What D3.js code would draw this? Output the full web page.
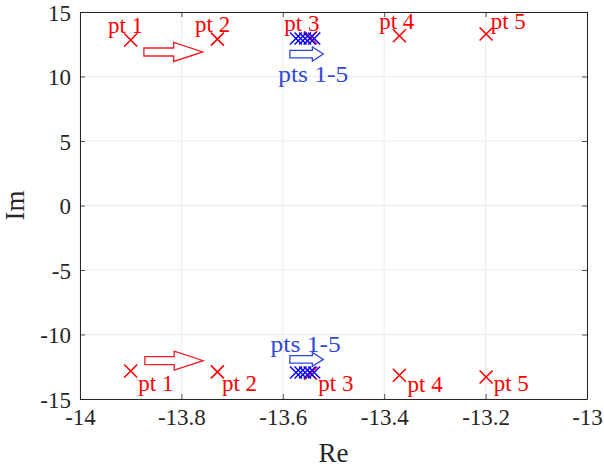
<!DOCTYPE html>
<html><head><meta charset="utf-8">
<script src="https://cdn.jsdelivr.net/npm/d3@7"></script>
<style>body{margin:0;background:#fff}svg{display:block}text{font-family:"Liberation Serif","Times New Roman",serif}</style>
</head><body><svg id="c" width="604" height="467"></svg>
<script>
// ---- data ----
const xTicks = [-14, -13.8, -13.6, -13.4, -13.2, -13];
const yTicks = [-15, -10, -5, 0, 5, 10, 15];
const redRe = [-13.90, -13.729, -13.545, -13.37, -13.199];
const redImTop = [12.83, 12.90, 13.0, 13.16, 13.29];
const redImBot = [-12.83, -12.90, -13.0, -13.16, -13.29];
const blueRe = [-13.574, -13.565, -13.556, -13.547, -13.538];
const blueIm = [12.95, 12.95, 12.95, 12.95, 12.95];
const ptLabels = ["pt 1", "pt 2", "pt 3", "pt 4", "pt 5"];
const topLabelRe = [-13.945, -13.773, -13.597, -13.41, -13.19];
const topLabelIm = [13.37, 13.42, 13.55, 13.66, 13.66];
const botLabelRe = [-13.885, -13.72, -13.53, -13.354, -13.184];
const botLabelIm = [-14.38, -14.38, -14.38, -14.42, -14.38];
const blueLabel = "pts 1-5";
const blueLabelRe = [-13.609, -13.624];
const blueLabelIm = [9.57, -11.33];
// arrows: [tailRe, tipRe, im]
const redArrows = [[-13.874, -13.758, 11.9], [-13.872, -13.757, -12.03]];
const blueArrows = [[-13.586, -13.52, 11.74], [-13.586, -13.52, -11.93]];

// ---- layout ----
const m = {l: 80, r: 17, t: 12, b: 68};
const W = 604, H = 467;
const SERIF = '"Liberation Serif","Times New Roman",serif';
const svg = d3.select("#c");
const x = d3.scaleLinear().domain([-14, -13]).range([m.l, W - m.r]);
const y = d3.scaleLinear().domain([-15, 15]).range([H - m.b, m.t]);
const RED = "#ff0000", BLUE = "#0000ff", BLUET = "#3048d8";
const fmt = d => String(d);

// grid
const g = svg.append("g");
g.selectAll(".gx").data(xTicks).join("line").attr("x1", d => x(d)).attr("x2", d => x(d))
  .attr("y1", y(-15)).attr("y2", y(15)).attr("stroke", "#ebebeb").attr("stroke-width", 1);
g.selectAll(".gy").data(yTicks).join("line").attr("y1", d => y(d)).attr("y2", d => y(d))
  .attr("x1", x(-14)).attr("x2", x(-13)).attr("stroke", "#ebebeb").attr("stroke-width", 1);

// axes
const axCol = "#262626";
const xa = svg.append("g").attr("transform", `translate(0,${y(-15)})`)
  .call(d3.axisBottom(x).tickValues(xTicks).tickSizeInner(-5).tickSizeOuter(0).tickPadding(9).tickFormat(fmt));
const ya = svg.append("g").attr("transform", `translate(${x(-14)},0)`)
  .call(d3.axisLeft(y).tickValues(yTicks).tickSizeInner(-5).tickSizeOuter(0).tickPadding(9).tickFormat(fmt));
const xt = svg.append("g").attr("transform", `translate(0,${y(15)})`)
  .call(d3.axisTop(x).tickValues(xTicks).tickSizeInner(-5).tickSizeOuter(0).tickFormat(""));
const yr = svg.append("g").attr("transform", `translate(${x(-13)},0)`)
  .call(d3.axisRight(y).tickValues(yTicks).tickSizeInner(-5).tickSizeOuter(0).tickFormat(""));
[xa, ya, xt, yr].forEach(a => {
  a.attr("font-family", SERIF).attr("font-size", 23);
  a.select(".domain").attr("stroke", axCol).attr("stroke-width", 1);
  a.selectAll(".tick line").attr("stroke", axCol).attr("stroke-width", 0.8);
  a.selectAll("text").attr("fill", axCol).style("font-size", "23px").style("font-family", SERIF);
});
xa.selectAll("text").attr("dy", "0.72em");
ya.selectAll("text").attr("dy", "0.35em");

svg.append("text").attr("x", x(-13.5)).attr("y", 462).attr("text-anchor", "middle")
  .style("font-size", "27px").attr("fill", axCol).text("Re");
svg.append("text").attr("transform", `translate(24,${y(0)}) rotate(-90)`).attr("text-anchor", "middle")
  .style("font-size", "27px").attr("fill", axCol).text("Im");

// markers
function xmark(sel, px, py, s, col, sw) {
  sel.append("path").attr("d", `M${px - s},${py - s}L${px + s},${py + s}M${px - s},${py + s}L${px + s},${py - s}`)
    .attr("stroke", col).attr("stroke-width", sw).attr("fill", "none");
}
const mk = svg.append("g");
redRe.forEach((r, i) => { xmark(mk, x(r), y(redImTop[i]), 6.5, RED, 1.6); xmark(mk, x(r), y(redImBot[i]), 6.5, RED, 1.6); });
blueRe.forEach((r, i) => { xmark(mk, x(r), y(blueIm[i]), 6, BLUE, 1.4); xmark(mk, x(r), y(-blueIm[i]), 6, BLUE, 1.4); });

// labels
const lab = svg.append("g").style("font-size", "23px").style("font-family", SERIF);
ptLabels.forEach((t, i) => {
  lab.append("text").attr("x", x(topLabelRe[i])).attr("y", y(topLabelIm[i])).attr("fill", RED).text(t);
  lab.append("text").attr("x", x(botLabelRe[i])).attr("y", y(botLabelIm[i])).attr("fill", RED).text(t);
});
blueLabelRe.forEach((r, i) => {
  lab.append("text").attr("x", x(r)).attr("y", y(blueLabelIm[i])).attr("fill", BLUET)
    .style("font-size", "24px").attr("textLength", 70).attr("lengthAdjust", "spacingAndGlyphs").text(blueLabel);
});

// arrows
function arrow(sel, a, col, bodyH, headH, headL) {
  const x0 = x(a[0]), x1 = x(a[1]), yc = y(a[2]);
  const hb = x1 - headL;
  const d = `M${x0},${yc - bodyH / 2}L${hb},${yc - bodyH / 2}L${hb},${yc - headH / 2}L${x1},${yc}L${hb},${yc + headH / 2}L${hb},${yc + bodyH / 2}L${x0},${yc + bodyH / 2}Z`;
  sel.append("path").attr("d", d).attr("fill", "#fff").attr("stroke", col).attr("stroke-width", 1.3);
}
redArrows.forEach(a => arrow(svg, a, "#ee1c25", 8, 19, 29));
blueArrows.forEach(a => arrow(svg, a, BLUET, 7.5, 14, 11));
</script></body></html>
